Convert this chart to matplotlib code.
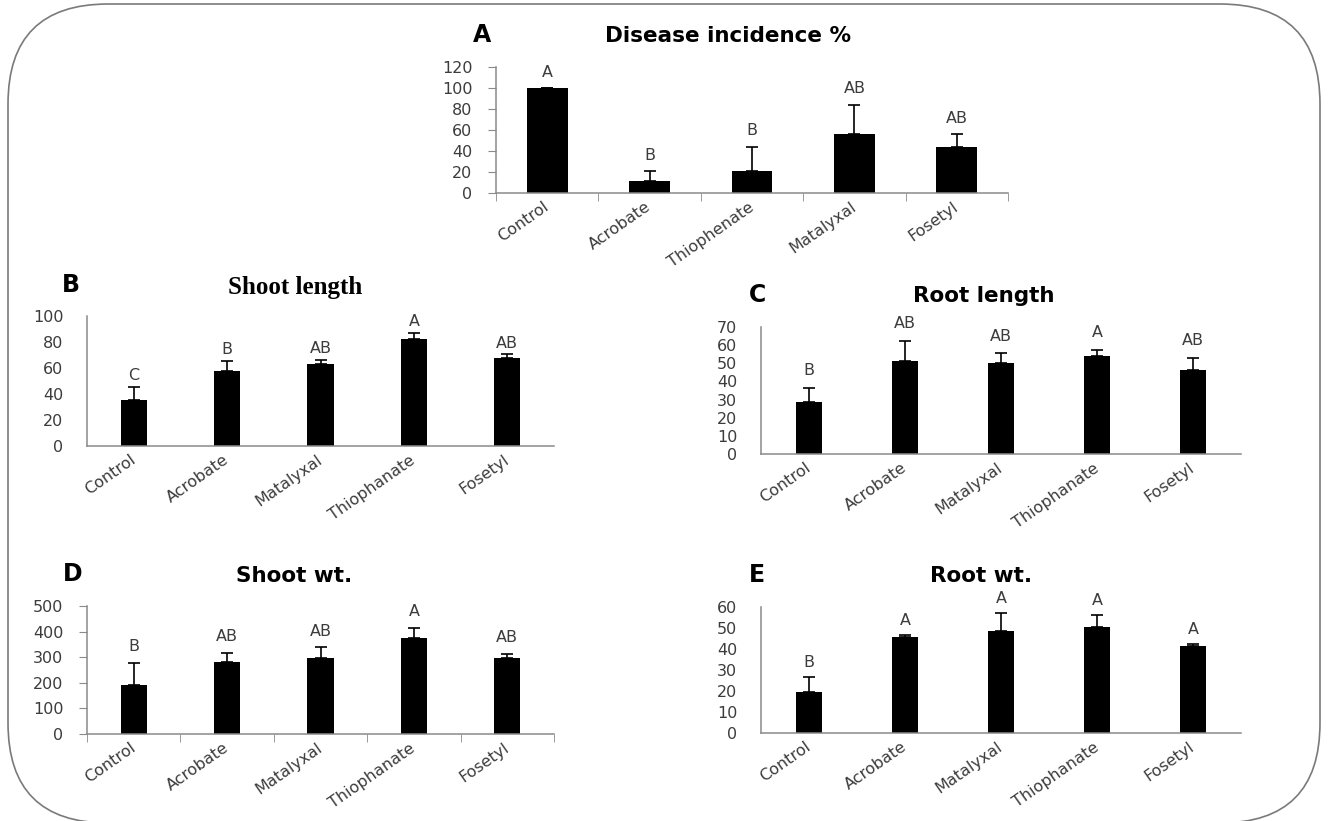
import numpy as np
import matplotlib.pyplot as plt
from matplotlib.patches import FancyBboxPatch
from matplotlib.transforms import IdentityTransform

W, H = 1328, 821

# panel A - disease incidence
cats_a = ['Control', 'Acrobate', 'Thiophenate', 'Matalyxal', 'Fosetyl']
inc_mean = [100, 11, 21, 56, 44]
inc_err = [0, 10, 23, 28, 12]
inc_let = ['A', 'B', 'B', 'AB', 'AB']

# panels B-E share the same order
cats = ['Control', 'Acrobate', 'Matalyxal', 'Thiophanate', 'Fosetyl']
sl_mean = [35.5, 58, 63, 82.5, 67.5]
sl_err = [10, 7.5, 3.5, 4.5, 3]
sl_let = ['C', 'B', 'AB', 'A', 'AB']

rl_mean = [28.5, 51.5, 50, 54, 46.5]
rl_err = [8, 11, 5.5, 3.5, 6.5]
rl_let = ['B', 'AB', 'AB', 'A', 'AB']

sw_mean = [191, 280, 298, 376, 298]
sw_err = [88, 38, 42, 39, 16]
sw_let = ['B', 'AB', 'AB', 'A', 'AB']

rw_mean = [19.5, 45.5, 48.5, 50.5, 41.5]
rw_err = [7, 1, 8.5, 5.5, 1]
rw_let = ['B', 'A', 'A', 'A', 'A']

GRAY = '#8a8a8a'
TXT = '#3c3c3c'

fig = plt.figure(figsize=(W / 100, H / 100), dpi=100)


def px(x0, y0, x1, y1):
    # pixel box (top-left origin) -> figure fraction rect
    return [x0 / W, 1 - y1 / H, (x1 - x0) / W, (y1 - y0) / H]


def panel(rect, labels, mean, err, letters, ymax, step, barw, ticks, off):
    ax = fig.add_axes(rect)
    x = np.arange(len(labels))
    ax.bar(x, mean, width=barw, color='black', zorder=2)
    ax.errorbar(x, mean, yerr=[np.zeros(len(err)), err], fmt='none',
                ecolor='black', elinewidth=1.2, capsize=4.3, capthick=1.2, zorder=3)
    for i, (m, e, l) in enumerate(zip(mean, err, letters)):
        ax.annotate(l, (i, m + e), xytext=(0, off), textcoords='offset points',
                    ha='center', va='bottom', fontsize=11.5, color=TXT)
    ax.set_xlim(-0.5, len(labels) - 0.5)
    ax.set_ylim(0, ymax)
    ax.set_yticks(np.arange(0, ymax + step / 2, step))
    ax.set_xticks(x, labels, rotation=35, ha='right', va='center',
                  rotation_mode='anchor')
    for s in ['top', 'right']:
        ax.spines[s].set_visible(False)
    for s in ['left', 'bottom']:
        ax.spines[s].set_color(GRAY)
        ax.spines[s].set_linewidth(1.1)
    tl = 6 if ticks else 0
    ax.tick_params(axis='y', length=tl, color=GRAY, pad=17 - tl,
                   labelsize=11.5, labelcolor=TXT)
    ax.tick_params(axis='x', length=0, pad=9, labelsize=11.5, labelcolor=TXT)
    if ticks:
        ax.set_xticks(np.arange(-0.5, len(labels)), minor=True)
        ax.tick_params(axis='x', which='minor', length=6, color=GRAY)
    ax.patch.set_alpha(0)
    return ax


panel(px(496, 67, 1008, 193), cats_a, inc_mean, inc_err, inc_let, 120, 20, 0.40, True, 6)
panel(px(87, 316, 554, 446), cats, sl_mean, sl_err, sl_let, 100, 20, 0.28, False, 2.5)
panel(px(761, 327, 1241, 454), cats, rl_mean, rl_err, rl_let, 70, 10, 0.28, False, 7)
panel(px(87, 606, 554, 734), cats, sw_mean, sw_err, sw_let, 500, 100, 0.28, True, 6)
panel(px(761, 607, 1241, 733), cats, rw_mean, rw_err, rw_let, 60, 10, 0.28, False, 5)

# panel letters and titles
heads = [
    ('A', 482, 35, 'Disease incidence %', 728, 36, 'DejaVu Sans', 15.5),
    ('B', 71, 285, 'Shoot length', 295, 287, 'Liberation Serif', 18),
    ('C', 757, 295, 'Root length', 984, 296, 'DejaVu Sans', 15.5),
    ('D', 73, 574, 'Shoot wt.', 294, 576, 'DejaVu Sans', 15.5),
    ('E', 757, 575, 'Root wt.', 981, 576, 'DejaVu Sans', 15.5),
]
for lab, lx, ly, title, tx, ty, fam, fs in heads:
    fig.text(lx / W, 1 - ly / H, lab, fontsize=17, fontweight='bold',
             ha='center', va='center', color='black')
    fig.text(tx / W, 1 - ty / H, title, fontsize=fs,
             fontweight='bold', family=fam, ha='center', va='center', color='black')

# rounded frame around everything
frame = FancyBboxPatch((8, -2), 1312, 819, boxstyle='round,pad=0,rounding_size=100',
                       transform=IdentityTransform(), fill=False,
                       edgecolor='#7a7a7a', linewidth=1.2)
fig.patches.append(frame)

fig.savefig('out.png', dpi=100)
